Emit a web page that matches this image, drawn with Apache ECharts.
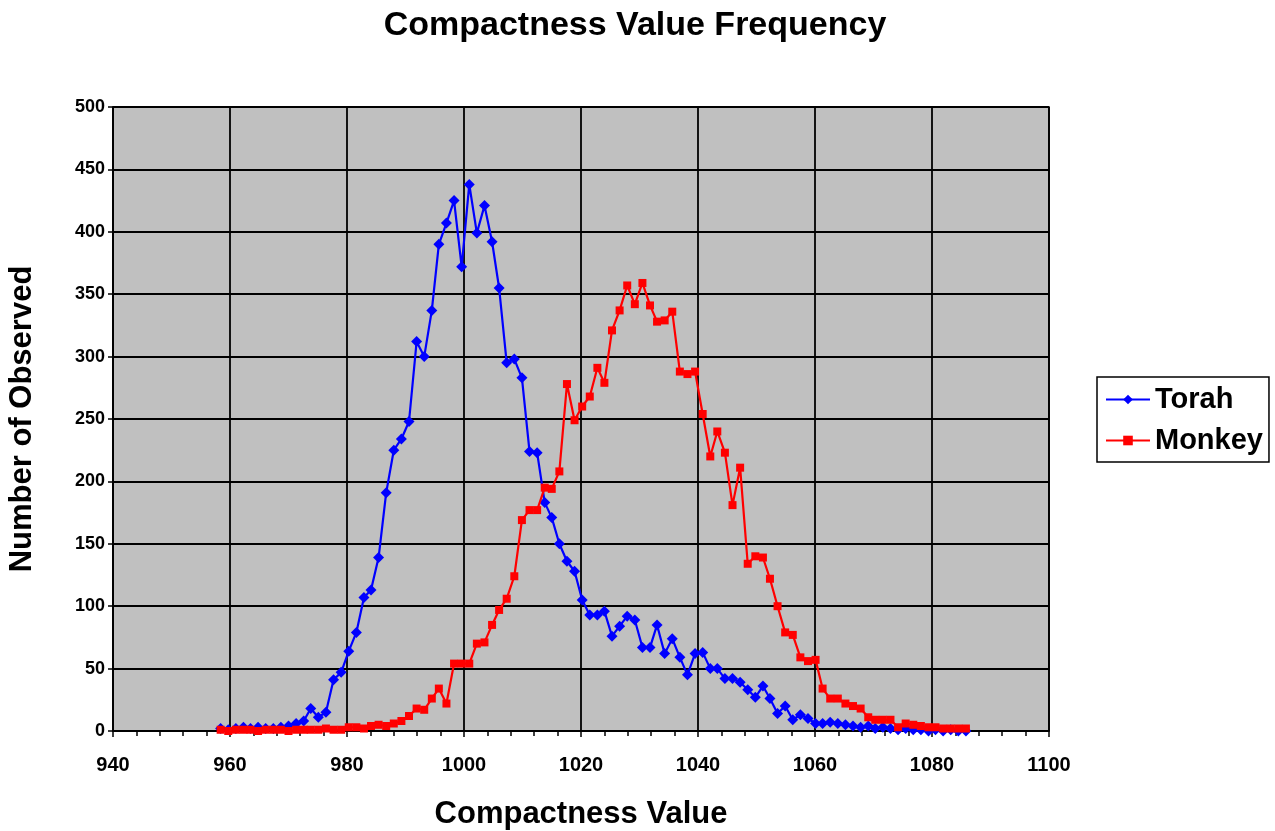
<!DOCTYPE html>
<html>
<head>
<meta charset="utf-8">
<script src="https://cdn.jsdelivr.net/npm/echarts@6/dist/echarts.min.js"></script>
<style>
html,body{margin:0;padding:0;background:#fff;}
#chart{width:1275px;height:831px;}
</style>
</head>
<body>
<div id="chart"></div>
<script>
// Bin centres (Compactness Value)
var binValues = [958.4,959.7,961.0,962.3,963.5,964.8,966.1,967.4,968.7,970.0,
971.3,972.6,973.8,975.1,976.4,977.7,979.0,980.3,981.6,982.9,
984.1,985.4,986.7,988.0,989.3,990.6,991.9,993.2,994.5,995.7,
997.0,998.3,999.6,1000.9,1002.2,1003.5,1004.8,1006.0,1007.3,1008.6,
1009.9,1011.2,1012.5,1013.8,1015.0,1016.3,1017.6,1018.9,1020.2,1021.5,
1022.8,1024.0,1025.3,1026.6,1027.9,1029.2,1030.5,1031.8,1033.0,1034.3,
1035.6,1036.9,1038.2,1039.5,1040.8,1042.1,1043.3,1044.6,1045.9,1047.2,
1048.5,1049.8,1051.1,1052.3,1053.6,1054.9,1056.2,1057.5,1058.8,1060.1,
1061.3,1062.6,1063.9,1065.2,1066.5,1067.8,1069.1,1070.3,1071.6,1072.9,
1074.2,1075.5,1076.8,1078.1,1079.4,1080.6,1081.9,1083.2,1084.5,1085.8];

var torah = [2,1,2,3,2,3,2,2,3,4,
6,8,18,11,15,41,47,64,79,107,
113,139,191,225,234,248,312,300,337,390,
407,425,372,438,399,421,392,355,295,298,
283,224,223,183,171,150,136,128,105,93,
93,96,76,84,92,89,67,67,85,62,
74,59,45,62,63,50,50,42,42,39,
33,27,36,26,14,20,9,13,10,6,
6,7,6,5,4,3,4,2,3,2,
1,2,1,1,0,1,0,1,0,0];

var monkey = [1,0,1,1,1,0,1,1,1,0,
1,1,1,1,2,1,1,3,3,2,
4,5,4,6,8,12,18,17,26,34,
22,54,54,54,70,71,85,97,106,124,
169,177,177,195,194,208,278,249,260,268,
291,279,321,337,357,342,359,341,328,329,
336,288,286,288,254,220,240,223,181,211,
134,140,139,122,100,79,77,59,56,57,
34,26,26,22,20,18,11,9,9,9,
3,6,5,4,3,3,2,2,2,2];

var seriesNames = ['Torah','Monkey'];
var xTicks = {min:940, max:1100, step:20};
var yTicks = {min:0, max:500, step:50};

function pairs(ys){ return ys.map(function(v,i){ return [binValues[i], v]; }); }

var chart = echarts.init(document.getElementById('chart'), null, {renderer:'canvas'});
var bold = {fontFamily:'Liberation Sans, Arial, sans-serif', fontWeight:'bold', color:'#000'};
chart.setOption({
  animation:false,
  backgroundColor:'#ffffff',
  title:{text:'Compactness Value Frequency', left:630, top:4, textAlign:'center',
    textStyle:Object.assign({fontSize:34}, bold)},
  grid:{left:113, right:226, top:107, bottom:100, show:true, backgroundColor:'#c0c0c0',
    borderColor:'#000', borderWidth:1.5, containLabel:false, outerBoundsMode:'none'},
  legend:{orient:'vertical', left:1097, top:377, padding:[8,6,7,8],
    itemGap:12, itemWidth:44, itemHeight:12, backgroundColor:'#fff', borderColor:'#000', borderWidth:1.5,
    textStyle:Object.assign({fontSize:29}, bold), data:seriesNames},
  xAxis:{type:'value', min:xTicks.min, max:xTicks.max, interval:xTicks.step,
    name:'Compactness Value', nameLocation:'middle', nameGap:68,
    nameTextStyle:Object.assign({fontSize:31}, bold),
    axisLine:{lineStyle:{color:'#000', width:1.5}},
    axisTick:{show:true, length:6, inside:false, lineStyle:{color:'#000', width:1.5}},
    minorTick:{show:true, splitNumber:5, length:5, lineStyle:{color:'#000', width:1.5}},
    axisLabel:Object.assign({fontSize:20, margin:24, formatter:function(v){return String(v);}}, bold),
    splitLine:{show:true, lineStyle:{color:'#000', width:1.8}}},
  yAxis:{type:'value', min:yTicks.min, max:yTicks.max, interval:yTicks.step,
    name:'Number of Observed', nameLocation:'middle', nameGap:75, nameRotate:90,
    nameTextStyle:Object.assign({fontSize:31}, bold),
    axisLine:{show:true, lineStyle:{color:'#000', width:1.5}},
    axisTick:{show:true, length:5, lineStyle:{color:'#000', width:1.5}},
    axisLabel:Object.assign({fontSize:18, margin:8}, bold),
    splitLine:{show:true, lineStyle:{color:'#000', width:1.8}}},
  series:[
    {name:seriesNames[0], type:'line', data:pairs(torah), symbol:'diamond', symbolSize:11,
      showAllSymbol:true, lineStyle:{color:'#0000ff', width:2.2}, itemStyle:{color:'#0000ff'}, z:3},
    {name:seriesNames[1], type:'line', data:pairs(monkey), symbol:'rect', symbolSize:8,
      showAllSymbol:true, lineStyle:{color:'#ff0000', width:2.2}, itemStyle:{color:'#ff0000'}, z:4}
  ]
});
</script>
</body>
</html>
